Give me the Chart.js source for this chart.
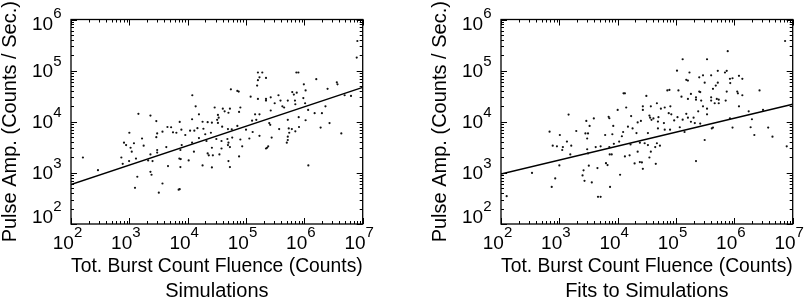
<!DOCTYPE html>
<html>
<head>
<meta charset="utf-8">
<script src="https://cdn.jsdelivr.net/npm/chart.js@4/dist/chart.umd.min.js"></script>
<style>
  html, body { margin: 0; padding: 0; background: #fff; width: 809px; height: 299px; overflow: hidden; }
  canvas { position: absolute; top: 0; }
  #c1 { left: 0; }
  #c2 { left: 430px; }
</style>
</head>
<body>
<canvas id="c1" width="379" height="299"></canvas>
<canvas id="c2" width="379" height="299"></canvas>
<script>
// ---------------- DATA ----------------
const panelTitles = ['Simulations', 'Fits to Simulations'];
const xAxisTitle = 'Tot. Burst Count Fluence (Counts)';
const yAxisTitle = 'Pulse Amp. (Counts / Sec.)';
const xTickExponents = [2, 3, 4, 5, 6, 7];
const yTickExponents = [2, 3, 4, 5, 6];

// Left panel: Simulations
const simFluence = [
  1430, 2300, 2900, 4500, 1000, 3000, 2900, 1650, 810, 880, 1200, 1760, 1050, 1100, 3700, 4300, 3000,
  160, 730, 1300, 2300, 3000, 770, 990, 2100, 2500, 290, 2300, 2400, 1370, 4600, 3700, 1250, 3200,
  160000, 190000, 160000, 170000, 55000, 71000, 75000, 155000, 12000, 120000, 160000, 29000, 40000,
  53000, 13700, 43000, 50000, 80000, 76000, 220000, 220000, 15600, 34000, 32000, 33000, 143000, 170000,
  11900, 18000, 22000, 26000, 33000, 150000, 127000, 7300, 5200, 7800, 11000, 13000, 14700, 18600,
  39000, 49000, 57000, 71000, 5600, 6400, 9100, 20000, 25000, 100000, 130000, 170000, 15600, 7900,
  7500, 11900, 21000, 31000, 38000, 48000, 50000, 58000, 80000, 86000, 114000, 12800, 26000, 38000,
  49000, 53000, 230000, 7200, 7600, 22000, 23000, 27000, 35000, 76000, 7500, 10400, 18000, 26000,
  50000, 53000, 7300, 7000,
  8100000, 7900000, 730000, 790000, 220000, 1600000, 3600000, 3700000, 980000, 2500000, 1050000,
  360000, 620000, 660000, 740000, 265000, 390000, 520000, 690000, 310000, 960000, 4900000, 6300000,
  265000, 420000, 450000, 700000, 1030000, 1160000, 2300000, 1500000, 2000000, 250000, 260000, 520000,
  800000, 1050000, 370000, 540000, 610000, 810000, 1900000, 2700000, 700000, 275000, 550000, 520000,
  520000, 500000, 240000, 220000, 4300000, 1170000
];
const simAmplitude = [
  14300, 13200, 10300, 7900, 6100, 5900, 5000, 4700, 3900, 3500, 3800, 3400, 3100, 2600, 6400, 3200, 2800,
  2000, 2000, 1900, 2300, 2500, 1500, 1700, 1750, 1700, 1130, 1050, 920, 840, 1360, 620, 510, 410,
  92000, 92000, 65000, 74000, 43000, 40000, 39000, 51000, 33000, 31000, 28000, 19000, 18000,
  18000, 20000, 16000, 15000, 19000, 15600, 28000, 26000, 14000, 12000, 10900, 13600, 14000, 14000,
  11200, 10000, 9800, 9600, 9500, 10900, 10500, 9900, 7800, 7000, 6700, 6700, 7500, 7300,
  8000, 7200, 7100, 8300, 6200, 6100, 5500, 5700, 6100, 7000, 6300, 5300, 4800, 3500,
  2800, 3900, 4200, 4600, 4200, 4600, 3900, 4900, 4500, 3300, 4700, 2600, 3100, 3000,
  3500, 3200, 3100, 1900, 1860, 2400, 2200, 2200, 2300, 2100, 1300, 1750, 1400, 1280,
  1700, 1300, 480, 470,
  380000, 180000, 92000, 92000, 72000, 68000, 59000, 54000, 54000, 44000, 41000,
  33000, 38000, 34000, 37000, 30000, 26000, 26000, 26000, 23000, 29000, 33000, 32000,
  16600, 20000, 19000, 22000, 23000, 17000, 20000, 14700, 14700, 9400, 8700, 10900,
  12300, 10700, 7200, 7400, 7200, 7900, 7700, 9400, 6500, 4900, 6100, 5100,
  4400, 3900, 3300, 3000, 5900, 1400
];
const simFitFluence = [1e2, 1e7];
const simFitAmplitude = [590, 47000];

// Right panel: Fits to Simulations
const fitFluence = [
  1440, 2900, 3900, 3300, 1950, 680, 2800, 3100, 1020, 3000, 1350, 770, 910, 1150, 1600, 1120, 3000,
  4200, 1540, 3100, 1000, 3200, 4500, 2600, 340, 2500, 850, 2700, 3600, 740, 125, 4600, 5100,
  130000, 104000, 170000, 150000, 160000, 71000, 77000, 110000, 12600, 13300, 31000, 180000, 124000,
  160000, 220000, 220000, 47000, 27000, 37000, 55000, 64000, 80000, 10000, 14000, 27000, 7000, 7200,
  17000, 35000, 36000, 50000, 75000, 83000, 106000, 150000, 160000, 200000, 8400, 15000, 18000, 22000,
  25000, 38000, 41000, 49000, 62000, 93000, 130000, 180000, 210000, 12400, 6100, 8100, 11800, 21000,
  33000, 49000, 64000, 79000, 116000, 140000, 5100, 7200, 8600, 10600, 16600, 24000, 29000, 33000,
  47000, 53000, 7300, 7900, 13300, 16000, 22000, 37000, 44000, 35000, 6300, 6700, 19500, 24000, 26000,
  45000, 27000, 220000, 11000, 7400,
  7400000, 770000, 340000, 250000, 290000, 400000, 520000, 690000, 740000, 840000, 930000, 1200000,
  1370000, 520000, 850000, 310000, 250000, 260000, 430000, 480000, 740000, 1120000, 1150000, 1370000,
  2700000, 270000, 400000, 400000, 500000, 540000, 710000, 290000, 340000, 460000, 540000, 1200000,
  240000, 340000, 1760000, 3100000, 2000000, 260000, 410000, 430000, 840000, 930000, 1900000, 3800000,
  310000, 2200000, 4500000, 7900000
];
const fitAmplitude = [
  13800, 10400, 11600, 8300, 6600, 6400, 5900, 5900, 5500, 4700, 4100, 3400, 3300, 3200, 3400, 2800, 2900,
  3200, 2300, 2400, 1400, 1380, 1240, 1120, 1000, 890, 780, 700, 650, 530, 350, 340, 340,
  167000, 100000, 92000, 66000, 64000, 41000, 42000, 41000, 36000, 36000, 32000, 35000, 31000,
  28000, 30000, 27000, 23000, 20000, 20000, 18000, 19000, 20000, 17000, 19000, 17000, 12500, 11700,
  12900, 13200, 12000, 12300, 14700, 14000, 12300, 14300, 12000, 12000, 8300, 8000, 7400, 9700,
  10400, 10900, 11600, 10100, 9400, 10600, 11000, 10000, 9400, 6300, 5500, 5700, 5200, 6000,
  6000, 7400, 7000, 7000, 7800, 6300, 3300, 3200, 3700, 4100, 3600, 3900, 3800, 3500,
  3800, 3400, 2300, 2300, 2100, 2200, 2600, 2600, 3200, 2000, 1550, 1420, 1530, 1630, 1600,
  1500, 1200, 1700, 920, 530,
  380000, 240000, 167000, 74000, 81000, 81000, 99000, 92000, 99000, 69000, 71000, 79000,
  69000, 58000, 57000, 58000, 39000, 38000, 44000, 51000, 39000, 39000, 36000, 33000,
  41000, 26000, 30000, 26000, 28000, 27000, 26000, 20000, 18000, 23000, 23000, 20000,
  16000, 14000, 16000, 17000, 11200, 9200, 7400, 7700, 11600, 7700, 7800, 7700,
  4400, 5500, 5100, 3300
];
const fitFitFluence = [1e2, 1e7];
const fitFitAmplitude = [950, 22000];

// ---------------- STYLE ----------------
const FONT = "'Liberation Sans', Arial, Helvetica, sans-serif";

const frameTicks = {
  id: 'frameTicks',
  afterDraw(chart) {
    const { ctx, chartArea: a, scales: { x, y } } = chart;
    ctx.save();
    ctx.strokeStyle = '#000';
    ctx.lineWidth = 1;
    const seg = (x1, y1, x2, y2) => { ctx.beginPath(); ctx.moveTo(x1, y1); ctx.lineTo(x2, y2); ctx.stroke(); };
    // minor + major ticks, mirrored on all sides, pointing inward
    for (let e = xTickExponents[0]; e <= xTickExponents[xTickExponents.length - 1]; e++) {
      for (let m = 1; m <= 9; m++) {
        const v = m * Math.pow(10, e);
        if (v > x.max * 1.0001) break;
        const px = Math.round(x.getPixelForValue(v)) + 0.5;
        const len = m === 1 ? 6 : 3;
        seg(px, a.bottom, px, a.bottom - len);
        seg(px, a.top, px, a.top + len);
      }
    }
    for (let e = yTickExponents[0]; e <= yTickExponents[yTickExponents.length - 1]; e++) {
      for (let m = 1; m <= 9; m++) {
        const v = m * Math.pow(10, e);
        if (v > y.max * 1.0001) break;
        const py = Math.round(y.getPixelForValue(v)) + 0.5;
        const len = m === 1 ? 6 : 3;
        seg(a.left, py, a.left + len, py);
        seg(a.right, py, a.right - len, py);
      }
    }
    ctx.lineWidth = 1.3;
    ctx.strokeRect(a.left, a.top, a.right - a.left, a.bottom - a.top);

    // tick labels: "10" with superscript exponent
    const big = '19px ' + FONT, small = '15px ' + FONT;
    ctx.fillStyle = '#000';
    ctx.textBaseline = 'alphabetic';
    xTickExponents.forEach(ex => {
      const px = x.getPixelForValue(Math.pow(10, ex));
      ctx.font = big; const w1 = ctx.measureText('10').width;
      ctx.font = small; const w2 = ctx.measureText(String(ex)).width;
      const left = px - 3.5 - (w1 + w2) / 2;
      const base = a.bottom + 25;
      ctx.font = big; ctx.textAlign = 'left'; ctx.fillText('10', left, base);
      ctx.font = small; ctx.fillText(String(ex), left + w1, base - 12.5);
    });
    yTickExponents.forEach(ex => {
      let py = y.getPixelForValue(Math.pow(10, ex));
      py = Math.min(Math.max(py, a.top + 3.5), a.bottom - 8);
      ctx.font = small; const w2 = ctx.measureText(String(ex)).width;
      const right = a.left - 9.5;
      const base = py + 6.6;
      ctx.textAlign = 'right';
      ctx.fillText(String(ex), right, base - 11.5);
      ctx.font = big; ctx.fillText('10', right - w2, base);
    });
    ctx.restore();
  }
};

function makeChart(id, xs, ys, fx, fy, subtitle) {
  const canvas = document.getElementById(id);
  const W = canvas.width;
  return new Chart(canvas, {
    data: {
      datasets: [
        {
          type: 'scatter',
          data: xs.map((v, i) => ({ x: v, y: ys[i] })),
          pointRadius: 1.1,
          pointBorderWidth: 0,
          pointBackgroundColor: '#111',
          pointHoverRadius: 1.1
        },
        {
          type: 'line',
          data: fx.map((v, i) => ({ x: v, y: fy[i] })),
          borderColor: '#000',
          borderWidth: 1.4,
          pointRadius: 0,
          fill: false
        }
      ]
    },
    options: {
      responsive: false,
      animation: false,
      devicePixelRatio: 1,
      layout: { padding: { left: 0, top: 19.5, right: W - 362.7, bottom: 0 } },
      plugins: { legend: { display: false }, tooltip: { enabled: false } },
      scales: {
        x: {
          type: 'logarithmic', min: 1e2, max: 1e7,
          grid: { display: false }, border: { display: false },
          ticks: { display: false },
          title: {
            display: true, text: [xAxisTitle, subtitle], color: '#000',
            font: { family: FONT, size: 20, lineHeight: 1.25 },
            padding: { top: 0, bottom: -5 }
          },
          afterFit: s => { s.height = 75; }
        },
        y: {
          type: 'logarithmic', min: 1e2, max: 1e6,
          grid: { display: false }, border: { display: false },
          ticks: { display: false },
          title: {
            display: true, text: yAxisTitle, color: '#000',
            font: { family: FONT, size: 20, lineHeight: 1.2 },
            padding: { top: -1.5, bottom: 0 }
          },
          afterFit: s => { s.width = 71; }
        }
      }
    },
    plugins: [frameTicks]
  });
}

makeChart('c1', simFluence, simAmplitude, simFitFluence, simFitAmplitude, panelTitles[0]);
makeChart('c2', fitFluence, fitAmplitude, fitFitFluence, fitFitAmplitude, panelTitles[1]);
</script>
</body>
</html>
